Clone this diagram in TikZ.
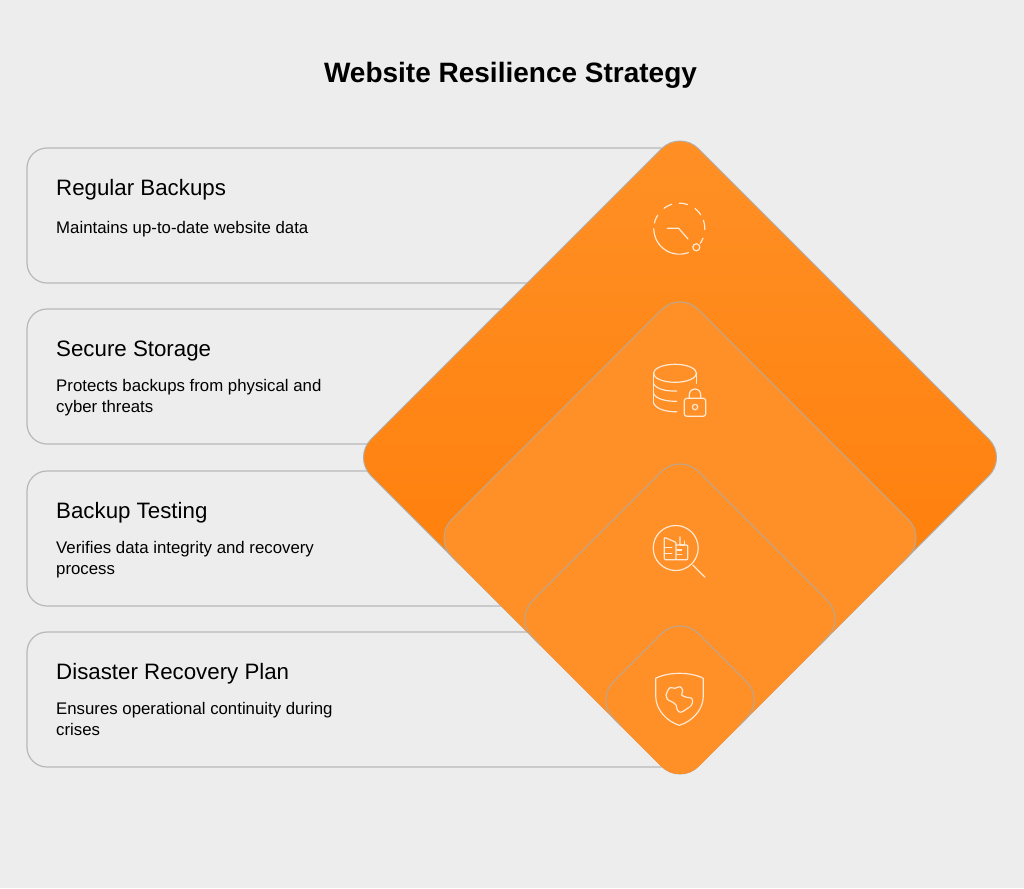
\documentclass[tikz,border=0pt]{standalone}
\usepackage{fontspec}
\setmainfont{Liberation Sans}
\definecolor{bgc}{HTML}{EDEDED}
\definecolor{cardline}{HTML}{B8B8B8}
\definecolor{topor}{HTML}{FF9026}
\definecolor{botor}{HTML}{FF7800}
\definecolor{innor}{HTML}{FF8F27}
\definecolor{innline}{HTML}{BFA68C}
\definecolor{outline}{HTML}{B0B0B0}
\definecolor{iconc}{HTML}{FFE9D4}
\newcommand{\diapath}[3]{(#1,#2-#3) -- (#1+#3,#2) -- (#1,#2+#3) -- (#1-#3,#2) -- cycle}
\newcommand{\diatop}[3]{(#1-#3+26,#2+26) -- (#1-#3,#2) -- (#1,#2-#3) -- (#1+#3,#2) -- (#1+#3-26,#2+26)}
\tikzset{
  x=1pt,y=-1pt,
  card/.style={draw=cardline,line width=1.2pt,fill=bgc,rounded corners=20pt,anchor=north west,
    minimum width=653pt,minimum height=135pt,inner sep=0pt,outer sep=0pt},
  ctitle/.style={anchor=base west,inner sep=0pt,font=\fontsize{22.3}{26}\selectfont,text=black},
  cdesc/.style={anchor=north west,inner sep=0pt,align=left,font=\fontsize{16.8}{21}\selectfont,text=black},
  outerdia/.style={draw=outline,line width=0.9pt,rounded corners=26pt,top color=topor,bottom color=botor},
  innerfill/.style={rounded corners=26pt,fill=innor},
  innerline/.style={draw=innline,line width=1.1pt,rounded corners=26pt},
  ico/.style={draw=iconc,line width=1.2pt,line cap=round,line join=round},
}
\begin{document}
\begin{tikzpicture}
\useasboundingbox (0,0) rectangle (1024,888);
\fill[bgc] (0,0) rectangle (1024,888);
\node[anchor=base,inner sep=0pt,font=\fontsize{28}{32}\bfseries\selectfont,text=black] (title) at (510.5,83) {Website Resilience Strategy};
% cards
\node[card] (c1) at (27,148) {};
\node[card] (c2) at (27,309) {};
\node[card] (c3) at (27,471) {};
\node[card] (c4) at (27,632) {};
\node[ctitle] (t1) at (56,195) {Regular Backups};
\node[ctitle] (t2) at (56,356) {Secure Storage};
\node[ctitle] (t3) at (56,518) {Backup Testing};
\node[ctitle] (t4) at (56,679) {Disaster Recovery Plan};
\node[cdesc] (d1) at (56,221) {Maintains up-to-date website data};
\node[cdesc] (d2) at (56,379) {Protects backups from physical and\\cyber threats};
\node[cdesc] (d3) at (56,541) {Verifies data integrity and recovery\\process};
\node[cdesc] (d4) at (56,702) {Ensures operational continuity during\\crises};
% diamonds
\path[outerdia] \diapath{680}{457.5}{327.3};
\fill[innerfill] \diapath{680}{538}{246.8};
\path[innerline] \diatop{680}{538}{246.8};
\fill[innerfill] \diapath{680}{619}{165.8};
\path[innerline] \diatop{680}{619}{165.8};
\fill[innerfill] \diapath{680}{700}{84.8};
\path[innerline] \diatop{680}{700}{84.8};
% icon 1: clock
\begin{scope}[ico,shift={(679.3,228.7)}]
\foreach \a/\b in {180/291,148/167,107/127,71/90,33/52,-2/19,-35/-22}{
  \draw plot[smooth,domain=\a:\b,samples=14,variable=\t] ({25.5*cos(\t)},{-25.5*sin(\t)});
}
\draw (-12,-0.4) -- (-0.6,-0.4) -- (8.7,10.3);
\draw (17,18.6) circle[radius=3.5pt];
\end{scope}
% icon 2: database and lock
\begin{scope}[ico]
\draw (675,373.3) circle[x radius=21.5pt,y radius=9pt];
\draw (653.5,373.3) -- (653.5,403);
\draw (696.5,373.3) -- (696.5,383.3);
\draw (653.5,383.5) .. controls (656,389) and (666,391.5) .. (676.7,391);
\draw (653.5,393.5) .. controls (656,399) and (666,401.5) .. (676.7,401.3);
\draw (653.5,403) .. controls (656,409) and (666,412) .. (676.7,411.7);
\draw[rounded corners=2.5pt] (684.3,398.3) rectangle (705.7,416.3);
\draw (689.3,398.3) -- (689.3,394.7) arc[start angle=180,end angle=0,radius=5.7pt] -- (700.7,398.3);
\draw (695,407) circle[radius=2.7pt];
\end{scope}
% icon 3: magnifier and buildings
\begin{scope}[ico]
\draw (675.7,548) circle[radius=22.5pt];
\draw (692.7,565) -- (705,577.3);
\draw[rounded corners=1pt] (664.3,537.3) -- (676,542.3) -- (676,559.7) -- (664.3,559.7) -- cycle;
\draw[rounded corners=1pt] (676,545) -- (680,545) -- (680,536.7);
\draw (680,545) -- (684.3,545) -- (684.3,541);
\draw[rounded corners=1pt] (684.3,545) -- (687.7,545) -- (687.7,559.7) -- (676,559.7);
\draw (664.3,547.3) -- (671.7,547.3);
\draw (664.3,553.3) -- (671.7,553.3);
\draw (676.7,550) -- (681.7,550);
\draw (676.7,554.3) -- (681.7,554.3);
\end{scope}
% icon 4: shield
\begin{scope}[ico]
\draw (655.7,678.3) .. controls (662,675) and (671,673.3) .. (679.3,673.3)
  .. controls (688,673.3) and (697,675) .. (703.3,678.3)
  -- (703.3,696) .. controls (703.3,710) and (692,721.5) .. (679.3,725.3)
  .. controls (667,721.5) and (655.7,710) .. (655.7,696) -- cycle;
\draw[smooth cycle,tension=0.7] plot coordinates {
  (667.3,691.7) (670,687.7) (675,688.3) (680,686.7) (682.7,690.7) (681.7,695)
  (686.7,697.3) (691.7,698.3) (692.3,703.3) (689.3,707.3) (685,710) (680.7,712.3)
  (677.3,710) (676,705) (671.7,701.7) (667.3,699.3) (666,695)};
\end{scope}
\end{tikzpicture}
\end{document}
